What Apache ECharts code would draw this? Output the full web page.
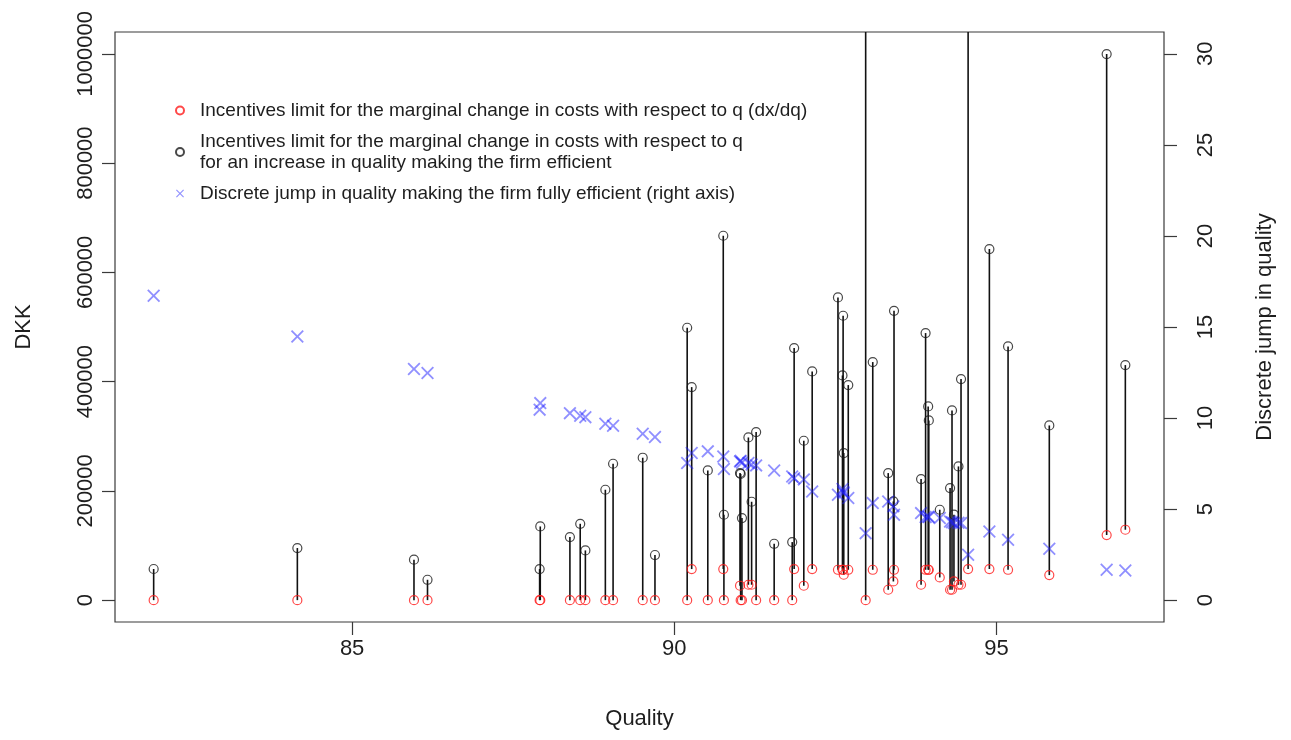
<!DOCTYPE html>
<html>
<head>
<meta charset="utf-8">
<script src="https://cdn.jsdelivr.net/npm/echarts@6/dist/echarts.min.js"></script>
<style>
html,body{margin:0;padding:0;background:#fff;}
#chart{width:1291px;height:740px;}
</style>
</head>
<body>
<div id="chart"></div>
<script>
// Quality of each firm (x axis)
const quality = [81.92, 84.15, 85.96, 86.17, 87.92, 87.91, 88.38, 88.54, 88.62, 88.93,
  89.05, 89.51, 89.70, 90.20, 90.27, 90.52, 90.76, 90.77, 91.02, 91.03,
  91.05, 91.15, 91.20, 91.27, 91.55, 91.83, 91.86, 92.01, 92.14, 92.54,
  92.61, 92.62, 92.63, 92.70, 92.97, 93.08, 93.32, 93.40, 93.41, 93.83,
  93.90, 93.94, 93.95, 94.12, 94.28, 94.31, 94.34, 94.41, 94.45, 94.56,
  94.89, 95.18, 95.82, 96.71, 97.00];
// Incentives limit dx/dq (red circles, DKK)
const limitDxdq = [0, 0, 0, 0, 0, 0, 0, 0, 0, 0,
  0, 0, 0, 0, 56900, 0, 56900, 0, 26400, 0,
  0, 28200, 28200, 0, 0, 0, 56900, 26400, 56900, 55600,
  55600, 55600, 46500, 55600, 0, 55600, 19000, 34200, 55600, 28200,
  55600, 55600, 55600, 41600, 19000, 19000, 34200, 28200, 28200, 56900,
  56900, 55600, 45900, 119200, 128900];
// Incentives limit for an increase making the firm efficient (black circles, DKK)
const limitEfficient = [57000, 95400, 74000, 37300, 134900, 56900, 115500, 139800, 91000, 202100,
  249700, 260700, 82600, 498600, 390000, 237400, 667000, 156300, 232600, 231000,
  150300, 297800, 180100, 307700, 103200, 106300, 461400, 291800, 418600, 554100,
  411300, 520600, 269300, 393700, 1250000, 435800, 232600, 180700, 529700, 221700,
  488900, 354600, 329000, 165500, 205200, 347200, 156500, 244800, 404700, 1150000,
  642700, 464400, 319800, 999600, 430300];
// Discrete jump in quality (blue crosses, right axis)
const jumpQuality = [16.72, 14.48, 12.69, 12.47, 10.82, 10.46, 10.27, 10.13, 10.05, 9.69,
  9.58, 9.14, 8.96, 7.53, 8.08, 8.17, 7.89, 7.20, 7.62, 7.65,
  7.55, 7.53, 7.45, 7.40, 7.12, 6.79, 6.70, 6.63, 5.97, 5.79,
  6.10, 5.95, 5.88, 5.61, 3.68, 5.33, 5.42, 5.15, 4.69, 4.78,
  4.56, 4.58, 4.56, 4.51, 4.32, 4.28, 4.23, 4.25, 4.23, 2.49,
  3.77, 3.32, 2.82, 1.67, 1.63];
const xTicks = [85, 90, 95];
const leftTicks = [0, 200000, 400000, 600000, 800000, 1000000];
const rightTicks = [0, 5, 10, 15, 20, 25, 30];

const nameRed = 'Incentives limit for the marginal change in costs with respect to q (dx/dq)';
const nameBlack = 'Incentives limit for the marginal change in costs with respect to q\nfor an increase in quality making the firm efficient';
const nameBlue = 'Discrete jump in quality making the firm fully efficient (right axis)';

const FONT = '"Liberation Sans", Arial, sans-serif';
const TXT = '#1e1e1e';
const AX = '#3a3a3a';
const crossPath = 'path://M0,1L1,0L5,4L9,0L10,1L6,5L10,9L9,10L5,6L1,10L0,9L4,5Z';
const plain = v => String(v);

const chart = echarts.init(document.getElementById('chart'), null, {renderer: 'canvas'});
chart.setOption({
  animation: false,
  backgroundColor: '#fff',
  textStyle: {fontFamily: FONT},
  grid: {left: 115, right: 127, top: 32, bottom: 118, show: true, borderColor: AX, borderWidth: 1.2, backgroundColor: 'transparent'},
  legend: {
    orient: 'vertical', left: 170, top: 95, itemWidth: 30, itemHeight: 8, itemGap: 10,
    textStyle: {fontFamily: FONT, fontSize: 19, lineHeight: 21, color: TXT},
    selectedMode: false,
    data: [nameRed, nameBlack, nameBlue]
  },
  xAxis: {
    type: 'value', min: 81.32, max: 97.6,
    name: 'Quality', nameLocation: 'middle', nameGap: 86,
    nameTextStyle: {fontFamily: FONT, fontSize: 22, color: TXT},
    axisLine: {show: false, onZero: false},
    axisTick: {show: true, length: 13, customValues: xTicks, lineStyle: {color: AX, width: 1.2}},
    axisLabel: {customValues: xTicks, formatter: plain, fontFamily: FONT, fontSize: 22, color: TXT, margin: 16},
    splitLine: {show: false}
  },
  yAxis: [{
    type: 'value', min: -40000, max: 1040000, position: 'left',
    name: 'DKK', nameLocation: 'middle', nameGap: 80, nameRotate: 90,
    nameTextStyle: {fontFamily: FONT, fontSize: 22, color: TXT},
    axisLine: {show: false, onZero: false},
    axisTick: {show: true, length: 13, customValues: leftTicks, lineStyle: {color: AX, width: 1.2}},
    axisLabel: {customValues: leftTicks, formatter: plain, rotate: 90, fontFamily: FONT, fontSize: 22, color: TXT, margin: 18},
    splitLine: {show: false}
  }, {
    type: 'value', min: -1.2, max: 31.2, position: 'right',
    name: 'Discrete jump in quality', nameLocation: 'middle', nameGap: 90, nameRotate: 90,
    nameTextStyle: {fontFamily: FONT, fontSize: 22, color: TXT},
    axisLine: {show: false, onZero: false},
    axisTick: {show: true, length: 13, customValues: rightTicks, lineStyle: {color: AX, width: 1.2}},
    axisLabel: {customValues: rightTicks, formatter: plain, rotate: 90, fontFamily: FONT, fontSize: 22, color: TXT, margin: 31},
    splitLine: {show: false}
  }],
  series: [{
    type: 'custom', name: 'stems', clip: true, silent: true, z: 2,
    data: quality.map((q, i) => [q, limitDxdq[i], limitEfficient[i]]),
    encode: {x: 0, y: [1, 2]},
    renderItem: function (params, api) {
      const p1 = api.coord([api.value(0), api.value(1)]);
      const p2 = api.coord([api.value(0), api.value(2)]);
      return {type: 'line', shape: {x1: p1[0], y1: p1[1], x2: p2[0], y2: p2[1]},
        style: {stroke: '#111', lineWidth: 1.6}};
    }
  }, {
    type: 'scatter', name: nameRed, symbol: 'circle', symbolSize: 9, z: 3,
    data: quality.map((q, i) => [q, limitDxdq[i]]),
    itemStyle: {color: 'rgba(255,255,255,0)', borderColor: '#ff1a1a', borderWidth: 1.2},
    emphasis: {disabled: true}
  }, {
    type: 'scatter', name: nameBlack, symbol: 'circle', symbolSize: 9, z: 3,
    data: quality.map((q, i) => [q, limitEfficient[i]]),
    itemStyle: {color: 'rgba(255,255,255,0)', borderColor: '#1a1a1a', borderWidth: 1.2},
    emphasis: {disabled: true}
  }, {
    type: 'scatter', name: nameBlue, yAxisIndex: 1, symbol: crossPath, symbolSize: 13, z: 4,
    data: quality.map((q, i) => [q, jumpQuality[i]]),
    itemStyle: {color: 'rgba(30,30,255,0.62)'},
    emphasis: {disabled: true}
  }]
});
</script>
</body>
</html>
